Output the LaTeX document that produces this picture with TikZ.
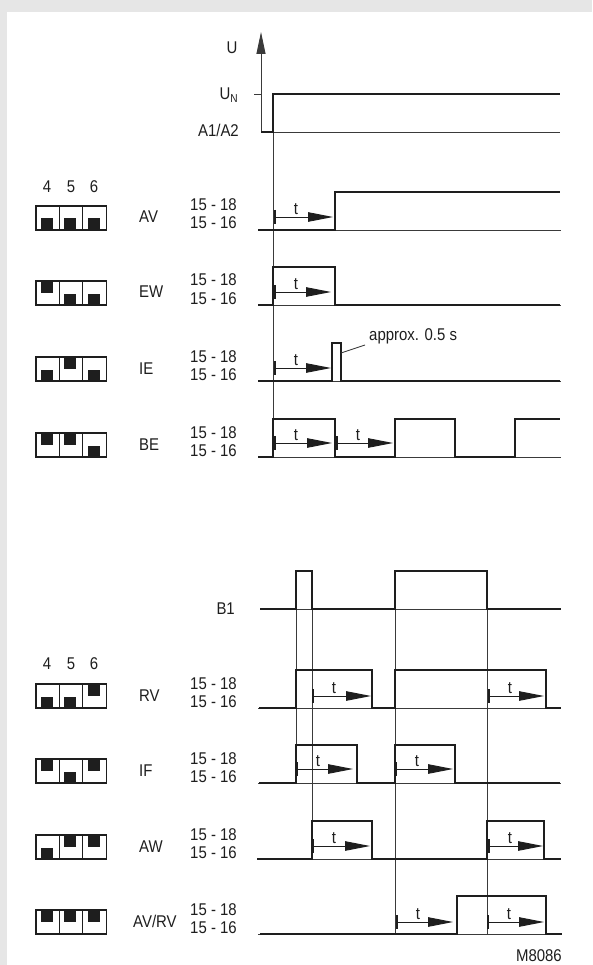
\documentclass[tikz,border=0pt]{standalone}
\usepackage{fontspec}
\setmainfont{Liberation Sans}[FakeStretch=0.88]
\usetikzlibrary{arrows.meta}
\definecolor{ink}{HTML}{1E1E1E}
\definecolor{thinc}{HTML}{3A3A3A}
\definecolor{bgc}{HTML}{E6E6E6}
\newcommand\swset[4]{%
  \foreach \i/\p in {0/#2,1/#3,2/#4}{%
    \fill[white] (36+23.4*\i,#1) rectangle ++(23.4,24);
    \ifnum\p=1
      \fill[swdot] (41+23.4*\i,#1) rectangle ++(12,11.5);
    \else
      \fill[swdot] (41+23.4*\i,#1+12.5) rectangle ++(12,11.5);
    \fi
    \draw[swbox] (36+23.4*\i,#1) rectangle ++(23.4,24);
  }}
\newcommand\tarr[4]{%
  \draw[tickm] (#2,#4-7) -- (#2,#4+7);
  \draw[tarrowln] (#2,#4) -- (#3,#4);
  \node[lbl,anchor=base] (#1) at (#2+21,#4-2.5) {t};}
\newcommand\rowtext[4]{% name, mode text, mode x, low level y
  \node[lbl,anchor=base west] (m#1) at (#3,#4-7) {#2};
  \node[lbl,anchor=base east] (h#1) at (237,#4-19) {15 - 18};
  \node[lbl,anchor=base east] (l#1) at (237,#4-1) {15 - 16};
  \draw[baseln] (258,#4) -- (561,#4);}
\begin{document}
\begin{tikzpicture}[x=1pt,y=-1pt,
  sig/.style={draw=ink,line width=2.4pt,line join=miter,line cap=butt},
  baseln/.style={draw=thinc,line width=0.9pt},
  vln/.style={draw=thinc,line width=0.9pt},
  lbl/.style={font=\fontsize{17}{20}\selectfont,text=ink,inner sep=0pt},
  tarrowln/.style={draw=ink,line width=0.9pt,-{Triangle[length=25pt,width=9.5pt]}},
  tickm/.style={draw=ink,line width=2.6pt},
  swbox/.style={draw=ink,line width=1.1pt},
  swdot/.style={fill=ink}]
\fill[bgc] (0,0) rectangle (592,965);
\fill[white] (7,12) rectangle (592,965);
\useasboundingbox (0,0) rectangle (592,965);

% ---- supply voltage ----
\draw[vln,-{Triangle[length=22pt,width=9pt]}] (261,132) -- (261,32);
\draw[vln] (254,94) -- (261,94);
\node[lbl,anchor=base] (U) at (232,54) {U};
\node[lbl,anchor=base east] (UN) at (238,100) {U\raisebox{-3pt}{\fontsize{11.5}{11.5}\selectfont N}};
\node[lbl,anchor=base east] (A12) at (239,137) {A1/A2};
\draw[baseln] (273,132) -- (560,132);
\draw[vln] (273,94) -- (273,457);
\draw[sig] (261,132) -- (273,132) -- (273,94) -- (560,94);

% ---- upper group ----
\node[lbl] (n4a) at (47,187) {4};
\node[lbl] (n5a) at (71,187) {5};
\node[lbl] (n6a) at (94,187) {6};

\swset{206}{0}{0}{0}
\rowtext{AV}{AV}{139}{230}
\draw[sig] (258,230) -- (335,230) -- (335,192) -- (560,192);
\tarr{tAV}{275}{333}{217}

\swset{281}{1}{0}{0}
\rowtext{EW}{EW}{139}{305}
\draw[sig] (258,305) -- (273,305) -- (273,267) -- (335,267) -- (335,305) -- (560,305);
\tarr{tEW}{275}{331}{292}

\swset{357}{0}{1}{0}
\rowtext{IE}{IE}{139}{381}
\draw[sig] (258,381) -- (332,381) -- (332,343) -- (341,343) -- (341,381) -- (560,381);
\tarr{tIE}{275}{331}{368}
\node[lbl,anchor=base west] (approx) at (369,340) {approx. 0.5 s};
\draw[vln] (341,353) -- (365,345);

\swset{433}{1}{1}{0}
\rowtext{BE}{BE}{139}{457}
\draw[sig] (258,457) -- (273,457) -- (273,419) -- (335,419) -- (335,457) -- (395,457) -- (395,419) -- (455,419) -- (455,457) -- (515,457) -- (515,419) -- (560,419);
\tarr{tBEa}{275}{332}{443}
\tarr{tBEb}{337}{393}{443}

% ---- lower group ----
\node[lbl,anchor=base east] (B1) at (235,614) {B1};
\draw[baseln] (260,609) -- (561,609);
\draw[vln] (296,571) -- (296,783);
\draw[vln] (312,571) -- (312,859);
\draw[vln] (395,571) -- (395,934);
\draw[vln] (487,571) -- (487,934);
\draw[sig] (260,609) -- (296,609) -- (296,571) -- (312,571) -- (312,609) -- (395,609) -- (395,571) -- (487,571) -- (487,609) -- (561,609);

\node[lbl] (n4b) at (47,664) {4};
\node[lbl] (n5b) at (71,664) {5};
\node[lbl] (n6b) at (94,664) {6};

\swset{684}{0}{0}{1}
\rowtext{RV}{RV}{139}{708}
\draw[sig] (259,708) -- (296,708) -- (296,670) -- (372,670) -- (372,708) -- (395,708) -- (395,670) -- (546,670) -- (546,708) -- (561,708);
\tarr{tRVa}{313}{371}{696}
\tarr{tRVb}{489}{544}{696}

\swset{759}{1}{0}{1}
\rowtext{IF}{IF}{139}{783}
\draw[sig] (259,783) -- (296,783) -- (296,745) -- (357,745) -- (357,783) -- (395,783) -- (395,745) -- (455,745) -- (455,783) -- (560,783);
\tarr{tIFa}{297}{353}{769}
\tarr{tIFb}{396}{453}{769}

\swset{835}{0}{1}{1}
\rowtext{AW}{AW}{139}{859}
\draw[sig] (257,859) -- (312,859) -- (312,821) -- (372,821) -- (372,859) -- (487,859) -- (487,821) -- (544,821) -- (544,859) -- (561,859);
\tarr{tAWa}{313}{370}{846}
\tarr{tAWb}{489}{543}{846}

\swset{910}{1}{1}{1}
\rowtext{AVRV}{AV/RV}{133}{934}
\draw[sig] (260,934) -- (457,934) -- (457,896) -- (546,896) -- (546,934) -- (562,934);
\tarr{tAVRVa}{397}{453}{922}
\tarr{tAVRVb}{488}{544}{922}

\node[lbl,anchor=base east] (code) at (562,961) {M8086};
\end{tikzpicture}
\end{document}
